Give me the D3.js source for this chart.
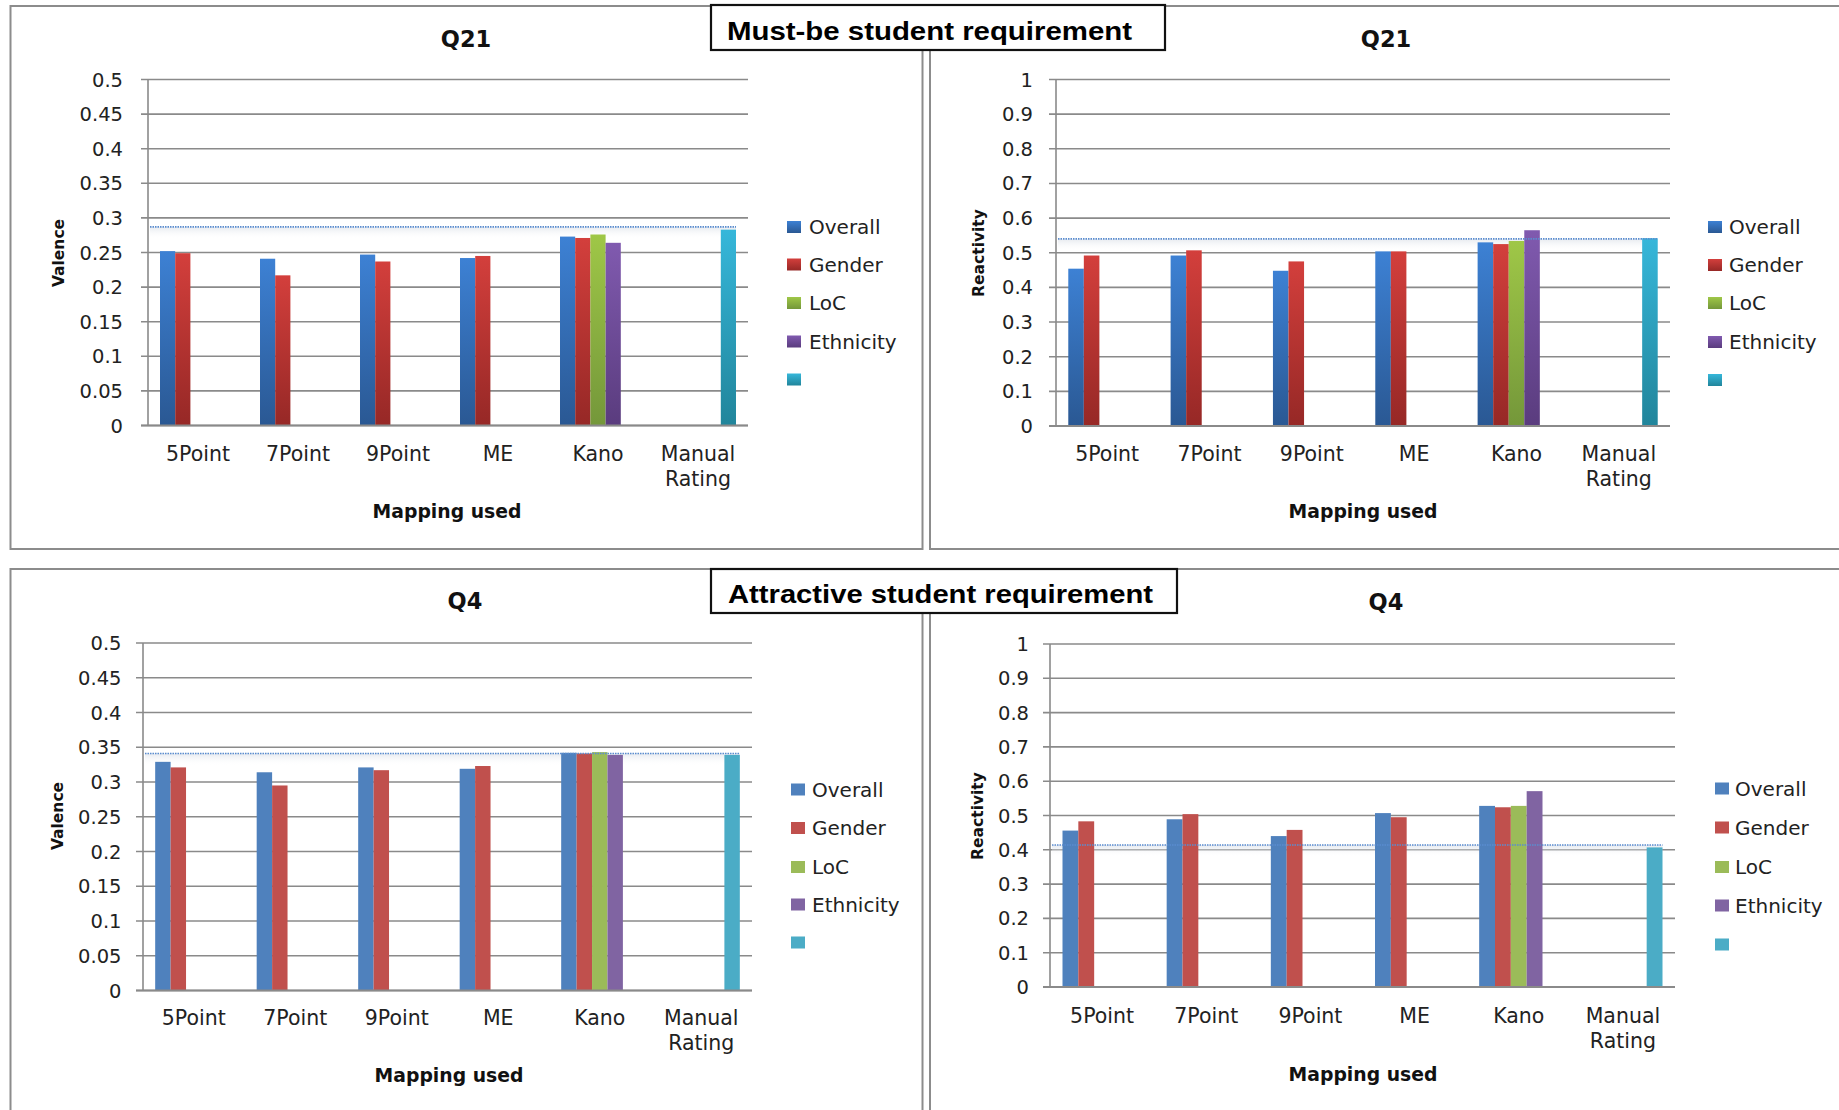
<!DOCTYPE html>
<html>
<head>
<meta charset="utf-8">
<script src="https://cdn.jsdelivr.net/npm/d3@7"></script>
<style>
  html, body { margin: 0; padding: 0; background: #fff; }
  svg { display: block; }
</style>
</head>
<body>
<svg id="chart" width="1839" height="1110"></svg>
<script>
// ---------- DATA ----------
const categories = ["5Point", "7Point", "9Point", "ME", "Kano", "Manual Rating"];
const seriesNames = ["Overall", "Gender", "LoC", "Ethnicity", ""];

const valenceTicks = ["0", "0.05", "0.1", "0.15", "0.2", "0.25", "0.3", "0.35", "0.4", "0.45", "0.5"];
const reactivityTicks = ["0", "0.1", "0.2", "0.3", "0.4", "0.5", "0.6", "0.7", "0.8", "0.9", "1"];

// Q21 (Must-be) - Valence
const q21ValOverall   = [0.252, 0.241, 0.247, 0.242, 0.273, null];
const q21ValGender    = [0.249, 0.217, 0.237, 0.245, 0.271, null];
const q21ValLoC       = [null, null, null, null, 0.276, null];
const q21ValEthnicity = [null, null, null, null, 0.264, null];
const q21ValManual    = [null, null, null, null, null, 0.283];
const q21ValRefLine   = 0.287;

// Q21 (Must-be) - Reactivity
const q21ReaOverall   = [0.454, 0.492, 0.448, 0.504, 0.530, null];
const q21ReaGender    = [0.492, 0.507, 0.475, 0.504, 0.525, null];
const q21ReaLoC       = [null, null, null, null, 0.534, null];
const q21ReaEthnicity = [null, null, null, null, 0.565, null];
const q21ReaManual    = [null, null, null, null, null, 0.542];
const q21ReaRefLine   = 0.540;

// Q4 (Attractive) - Valence
const q4ValOverall    = [0.329, 0.314, 0.321, 0.319, 0.342, null];
const q4ValGender     = [0.321, 0.295, 0.317, 0.323, 0.341, null];
const q4ValLoC        = [null, null, null, null, 0.343, null];
const q4ValEthnicity  = [null, null, null, null, 0.339, null];
const q4ValManual     = [null, null, null, null, null, 0.339];
const q4ValRefLine    = 0.341;

// Q4 (Attractive) - Reactivity
const q4ReaOverall    = [0.456, 0.489, 0.440, 0.507, 0.528, null];
const q4ReaGender     = [0.483, 0.504, 0.458, 0.495, 0.524, null];
const q4ReaLoC        = [null, null, null, null, 0.528, null];
const q4ReaEthnicity  = [null, null, null, null, 0.571, null];
const q4ReaManual     = [null, null, null, null, null, 0.407];
const q4ReaRefLine    = 0.414;

const headerTexts = ["Must-be student requirement", "Attractive student requirement"];

// ---------- STYLE ----------
const gradColors = [
  ["#3d81d4", "#2a5893"],
  ["#d33f3c", "#962826"],
  ["#9fc747", "#74973a"],
  ["#805aaf", "#5a3c7e"],
  ["#36b7da", "#21859b"]
];
const flatColors = ["#4f81bd", "#c0504d", "#9bbb59", "#8064a2", "#4bacc6"];

const panels = [
  { title: "Q21", ytitle: "Valence", ticks: valenceTicks, max: 0.5,
    series: [q21ValOverall, q21ValGender, q21ValLoC, q21ValEthnicity, q21ValManual], ref: q21ValRefLine,
    border: [10.5, 6, 912, 543], px0: 148, px1: 748, py0: 79.5, py1: 425.5, tickRight: 123,
    titleX: 466, titleY: 39, ytX: 58, ytY: 253, legX: 787, legTextX: 809, legY: [227, 264.5, 303, 341.5, 379.5],
    xlabY: 454, xtX: 447, xtY: 511, gradient: true },
  { title: "Q21", ytitle: "Reactivity", ticks: reactivityTicks, max: 1,
    series: [q21ReaOverall, q21ReaGender, q21ReaLoC, q21ReaEthnicity, q21ReaManual], ref: q21ReaRefLine,
    border: [930, 6, 1000, 543], px0: 1056, px1: 1670, py0: 79.5, py1: 426, tickRight: 1033,
    titleX: 1386, titleY: 39, ytX: 978, ytY: 253, legX: 1708, legTextX: 1729, legY: [227, 265, 303, 342, 380],
    xlabY: 454, xtX: 1363, xtY: 511, gradient: true },
  { title: "Q4", ytitle: "Valence", ticks: valenceTicks, max: 0.5,
    series: [q4ValOverall, q4ValGender, q4ValLoC, q4ValEthnicity, q4ValManual], ref: q4ValRefLine,
    border: [10.5, 569, 912, 600], px0: 143, px1: 752, py0: 643, py1: 990.5, tickRight: 121.5,
    titleX: 465, titleY: 601, ytX: 57, ytY: 816, legX: 791, legTextX: 812, legY: [789.5, 828, 867, 904.5, 942.5],
    xlabY: 1017.5, xtX: 449, xtY: 1075, gradient: false },
  { title: "Q4", ytitle: "Reactivity", ticks: reactivityTicks, max: 1,
    series: [q4ReaOverall, q4ReaGender, q4ReaLoC, q4ReaEthnicity, q4ReaManual], ref: q4ReaRefLine,
    border: [930, 569, 1000, 600], px0: 1050, px1: 1675, py0: 644, py1: 987, tickRight: 1029,
    titleX: 1386, titleY: 602, ytX: 977, ytY: 816, legX: 1715, legTextX: 1735, legY: [788.5, 827.5, 867, 905.5, 944.5],
    xlabY: 1015.5, xtX: 1363, xtY: 1074, gradient: false }
];

const headers = [
  { text: headerTexts[0], box: [711, 5, 454, 45], tx: 727, ty: 39.5, len: 405 },
  { text: headerTexts[1], box: [711, 569, 466, 44], tx: 728, ty: 603, len: 425 }
];

// ---------- DRAW ----------
const svg = d3.select("#chart");
svg.append("rect").attr("width", 1839).attr("height", 1110).attr("fill", "#fff");

const defs = svg.append("defs");
gradColors.forEach((c, i) => {
  const g = defs.append("linearGradient").attr("id", "grad" + i)
    .attr("x1", 0).attr("y1", 0).attr("x2", 0).attr("y2", 1);
  g.append("stop").attr("offset", "0%").attr("stop-color", c[0]);
  g.append("stop").attr("offset", "100%").attr("stop-color", c[1]);
});
const sh = defs.append("linearGradient").attr("id", "refShadow")
  .attr("x1", 0).attr("y1", 0).attr("x2", 0).attr("y2", 1);
sh.append("stop").attr("offset", "0%").attr("stop-color", "#d5dbe4").attr("stop-opacity", 0.6);
sh.append("stop").attr("offset", "100%").attr("stop-color", "#ffffff").attr("stop-opacity", 0);

const FONT = "'DejaVu Sans', Verdana, sans-serif";
const GRID = "#8a8a8a";

panels.forEach(p => {
  const g = svg.append("g");
  // panel border
  g.append("rect")
    .attr("x", p.border[0]).attr("y", p.border[1])
    .attr("width", p.border[2]).attr("height", p.border[3])
    .attr("fill", "none").attr("stroke", "#8c8c8c").attr("stroke-width", 2);

  const y = d3.scaleLinear().domain([0, p.max]).range([p.py1, p.py0]);
  const x0 = d3.scaleBand().domain(categories).range([p.px0, p.px1])
    .paddingInner(0.24).paddingOuter(0.12);
  const x1 = d3.scaleBand().domain(d3.range(seriesNames.length)).range([0, x0.bandwidth()]);

  const tickVals = p.ticks.map(Number);

  // gridlines (with small tick stubs to the left of the axis)
  g.append("g").selectAll("line").data(tickVals).join("line")
    .attr("x1", p.px0 - 7).attr("x2", p.px1)
    .attr("y1", d => y(d)).attr("y2", d => y(d))
    .attr("stroke", GRID).attr("stroke-width", 1.6);

  // y axis line
  g.append("line").attr("x1", p.px0).attr("x2", p.px0)
    .attr("y1", y(0)).attr("y2", y(p.max))
    .attr("stroke", GRID).attr("stroke-width", 1.6);

  // tick labels
  g.append("g").selectAll("text").data(p.ticks).join("text")
    .attr("x", p.tickRight).attr("y", d => y(+d))
    .attr("dy", "0.36em").attr("text-anchor", "end")
    .attr("font-family", FONT).attr("font-size", 19.5).attr("fill", "#222")
    .text(d => d);

  // reference line shadow + dotted line
  const refX1 = x0(categories[categories.length - 1]) + x1(seriesNames.length - 1) + x1.bandwidth();
  g.append("rect").attr("x", p.px0 + 2).attr("y", y(p.ref))
    .attr("width", refX1 - p.px0 - 2).attr("height", 12)
    .attr("fill", "url(#refShadow)");

  // bars
  p.series.forEach((vals, si) => {
    const data = vals.map((v, ci) => ({ v, c: categories[ci] })).filter(d => d.v != null);
    g.append("g").selectAll("rect").data(data).join("rect")
      .attr("x", d => x0(d.c) + x1(si))
      .attr("y", d => y(d.v))
      .attr("width", x1.bandwidth())
      .attr("height", d => y(0) - y(d.v))
      .attr("fill", p.gradient ? "url(#grad" + si + ")" : flatColors[si]);
  });

  g.append("line")
    .attr("x1", p.px0 + 2).attr("x2", refX1)
    .attr("y1", y(p.ref)).attr("y2", y(p.ref))
    .attr("stroke", "#5a8ccf").attr("stroke-width", 1.6)
    .attr("stroke-dasharray", "1.5 1");

  // zero baseline on top
  g.append("line").attr("x1", p.px0 - 7).attr("x2", p.px1)
    .attr("y1", y(0)).attr("y2", y(0))
    .attr("stroke", GRID).attr("stroke-width", 1.8);

  // category labels
  const xl = g.append("g");
  categories.forEach(c => {
    const t = xl.append("text")
      .attr("x", x0(c) + x0.bandwidth() / 2).attr("y", p.xlabY)
      .attr("dy", "0.36em").attr("text-anchor", "middle")
      .attr("font-family", FONT).attr("font-size", 20.5).attr("fill", "#222");
    c.split(" ").forEach((w, i) => {
      t.append("tspan").attr("x", x0(c) + x0.bandwidth() / 2)
        .attr("dy", i === 0 ? "0.36em" : "1.22em").text(w);
    });
  });

  // chart title
  g.append("text").attr("x", p.titleX).attr("y", p.titleY).attr("dy", "0.36em")
    .attr("text-anchor", "middle").attr("font-family", FONT).attr("font-weight", "bold")
    .attr("font-size", 22.5).attr("fill", "#111").text(p.title);

  // x axis title
  g.append("text").attr("x", p.xtX).attr("y", p.xtY).attr("dy", "0.36em")
    .attr("text-anchor", "middle").attr("font-family", FONT).attr("font-weight", "bold")
    .attr("font-size", 18.8).attr("fill", "#111").text("Mapping used");

  // y axis title
  g.append("text").attr("transform", `translate(${p.ytX},${p.ytY}) rotate(-90)`)
    .attr("dy", "0.36em").attr("text-anchor", "middle")
    .attr("font-family", FONT).attr("font-weight", "bold")
    .attr("font-size", 15.5).attr("fill", "#111").text(p.ytitle);

  // legend
  const lg = g.append("g");
  seriesNames.forEach((s, i) => {
    lg.append("rect").attr("x", p.legX).attr("y", p.legY[i] - 6)
      .attr("width", 14).attr("height", 12)
      .attr("fill", p.gradient ? "url(#grad" + i + ")" : flatColors[i]);
    if (s) {
      lg.append("text").attr("x", p.legTextX).attr("y", p.legY[i]).attr("dy", "0.36em")
        .attr("font-family", FONT).attr("font-size", 20).attr("fill", "#222").text(s);
    }
  });
});

// header boxes
headers.forEach(h => {
  svg.append("rect").attr("x", h.box[0]).attr("y", h.box[1])
    .attr("width", h.box[2]).attr("height", h.box[3])
    .attr("fill", "#fff").attr("stroke", "#111").attr("stroke-width", 2.2);
  svg.append("text").attr("x", h.tx).attr("y", h.ty)
    .attr("font-family", "'Liberation Sans', Arial, sans-serif").attr("font-weight", "bold")
    .attr("font-size", 26).attr("fill", "#000")
    .attr("textLength", h.len).attr("lengthAdjust", "spacingAndGlyphs")
    .text(h.text);
});
</script>
</body>
</html>
